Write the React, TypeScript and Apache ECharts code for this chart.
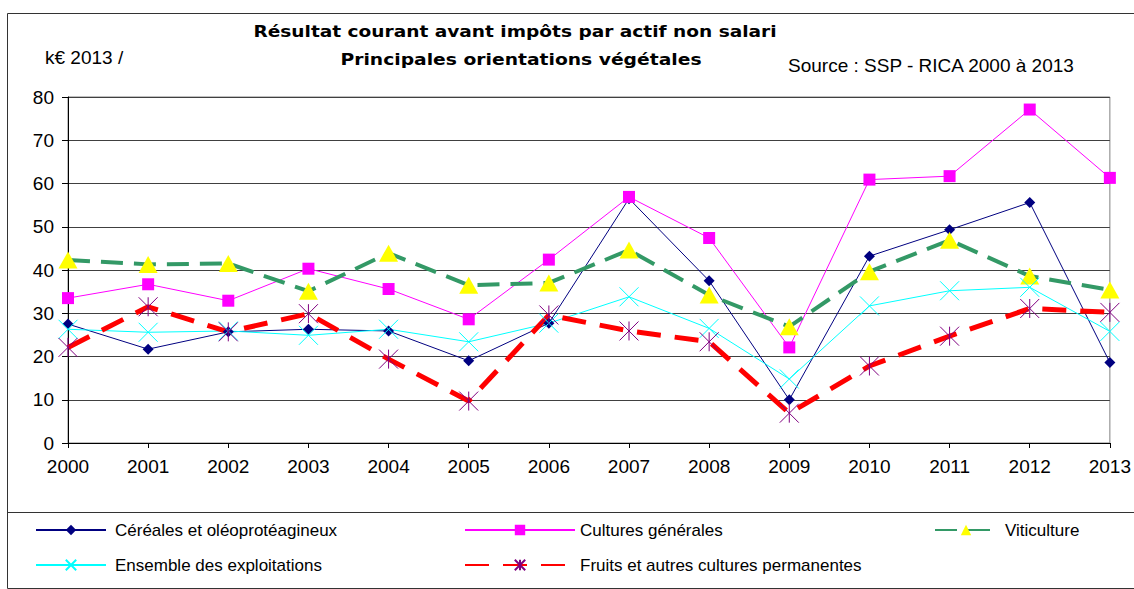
import React, { useEffect, useRef } from "react";
import * as echarts from "echarts";

const years = ["2000", "2001", "2002", "2003", "2004", "2005", "2006", "2007", "2008", "2009", "2010", "2011", "2012", "2013"];
const cereales = [27.5, 21.7, 25.7, 26.3, 25.9, 19.0, 27.7, 56.5, 37.5, 10.0, 43.2, 49.3, 55.6, 18.6];
const cultures = [33.5, 36.7, 32.9, 40.3, 35.6, 28.6, 42.4, 56.9, 47.4, 22.1, 60.9, 61.7, 77.1, 61.3];
const viticulture = [42.3, 41.3, 41.5, 35.1, 43.9, 36.5, 37.0, 44.6, 34.2, 26.9, 39.6, 46.9, 38.6, 35.4];
const ensemble = [26.3, 25.6, 25.9, 24.9, 26.3, 23.4, 27.7, 33.8, 26.5, 14.8, 31.7, 35.2, 36.0, 25.8];
const fruits = [22.1, 31.5, 25.7, 29.9, 19.4, 9.7, 29.6, 25.9, 23.4, 6.9, 17.8, 24.7, 31.1, 30.2];

const names = [
  "Céréales et oléoprotéagineux",
  "Cultures générales",
  "Viticulture",
  "Ensemble des exploitations",
  "Fruits et autres cultures permanentes",
];

const X_PATH = "path://M0,0L10,10M10,0L0,10";
const STAR_PATH = "path://M0,0L10,10M10,0L0,10M5,0L5,10";

export default function App() {
  const ref = useRef<HTMLDivElement>(null);
  useEffect(() => {
    if (!ref.current) return;
    const chart = echarts.init(ref.current, undefined, { renderer: "svg" });
    const font = "'Liberation Sans', Arial, sans-serif";
    const legendText = { fontFamily: font, fontSize: 17, color: "#000", lineHeight: 20 };
    chart.setOption({
      animation: false,
      backgroundColor: "#fff",
      graphic: [
        { type: "rect", shape: { x: 7.5, y: 13.5, width: 1140, height: 575 }, style: { fill: "none", stroke: "#333", lineWidth: 1 }, silent: true },
        { type: "line", shape: { x1: 7.5, y1: 512.5, x2: 1140, y2: 512.5 }, style: { stroke: "#333", lineWidth: 1 }, silent: true },
        { type: "text", x: 515, y: 31, scaleX: 1.16, style: { text: "Résultat courant avant impôts par actif non salari", font: "bold 16px 'DejaVu Sans', sans-serif", fill: "#000", align: "center", verticalAlign: "middle" }, silent: true },
        { type: "text", x: 521, y: 59, scaleX: 1.17, style: { text: "Principales orientations végétales", font: "bold 16px 'DejaVu Sans', sans-serif", fill: "#000", align: "center", verticalAlign: "middle" }, silent: true },
        { type: "text", x: 788, y: 65, style: { text: "Source : SSP - RICA 2000 à 2013", font: "19px 'Liberation Sans', Arial, sans-serif", fill: "#000", align: "left", verticalAlign: "middle" }, silent: true },
        { type: "text", x: 45, y: 57, style: { text: "k€ 2013 /", font: "19px 'Liberation Sans', Arial, sans-serif", fill: "#000", align: "left", verticalAlign: "middle" }, silent: true },
      ],
      grid: { left: 68, right: 18, top: 97, bottom: 146, show: true, borderColor: "#808080", borderWidth: 1, backgroundColor: "transparent" },
      xAxis: {
        type: "category",
        data: years,
        boundaryGap: false,
        axisLine: { show: true, lineStyle: { color: "#000", width: 1 } },
        axisTick: { show: true, inside: false, length: 5, alignWithLabel: true, lineStyle: { color: "#000" } },
        axisLabel: { fontFamily: font, fontSize: 19, color: "#000", margin: 14 },
        splitLine: { show: false },
      },
      yAxis: {
        type: "value",
        min: 0,
        max: 80,
        interval: 10,
        axisLine: { show: true, lineStyle: { color: "#000", width: 1 } },
        axisTick: { show: true, inside: false, length: 6, lineStyle: { color: "#000" } },
        axisLabel: { fontFamily: font, fontSize: 19, color: "#000", margin: 14 },
        splitLine: { show: true, lineStyle: { color: "#404040", width: 1 } },
      },
      legend: [
        { data: [names[0], names[3]], orient: "vertical", left: 30, top: 515, itemWidth: 70, itemHeight: 13, itemGap: 15, textStyle: { ...legendText, padding: [0, 0, 0, 4] }, selectedMode: false },
        { data: [names[1], names[4]], orient: "vertical", left: 459, top: 515, itemWidth: 110, itemHeight: 13, itemGap: 15, textStyle: { ...legendText, padding: [0, 0, 0, 0] }, selectedMode: false },
        { data: [names[2]], orient: "vertical", left: 929, top: 515, itemWidth: 62, itemHeight: 13, itemGap: 15, textStyle: { ...legendText, padding: [0, 0, 0, 3] }, selectedMode: false },
      ],
      series: [
        {
          name: names[0], type: "line", data: cereales, symbol: "diamond", symbolSize: 11,
          lineStyle: { color: "#000080", width: 1 }, itemStyle: { color: "#000080", borderWidth: 0 },
        },
        {
          name: names[1], type: "line", data: cultures, symbol: "rect", symbolSize: 12,
          lineStyle: { color: "#FF00FF", width: 1 }, itemStyle: { color: "#FF00FF", borderWidth: 0 },
        },
        {
          name: names[2], type: "line", data: viticulture, symbol: "triangle", symbolSize: [19, 17],
          lineStyle: { color: "#339966", width: 4, type: [22, 11] }, itemStyle: { color: "#FFFF00", borderWidth: 0 },
        },
        {
          name: names[3], type: "line", data: ensemble, symbol: X_PATH, symbolSize: 19,
          lineStyle: { color: "#00FFFF", width: 1 }, itemStyle: { color: "none", borderColor: "#00FFFF", borderWidth: 1 },
        },
        {
          name: names[4], type: "line", data: fruits, symbol: STAR_PATH, symbolSize: 19,
          lineStyle: { color: "#FF0000", width: 5, type: [24, 14] }, itemStyle: { color: "none", borderColor: "#800080", borderWidth: 1 },
        },
      ],
    });
    return () => chart.dispose();
  }, []);
  return <div ref={ref} style={{ width: 1134, height: 589, position: "absolute", left: 0, top: 0 }} />;
}
